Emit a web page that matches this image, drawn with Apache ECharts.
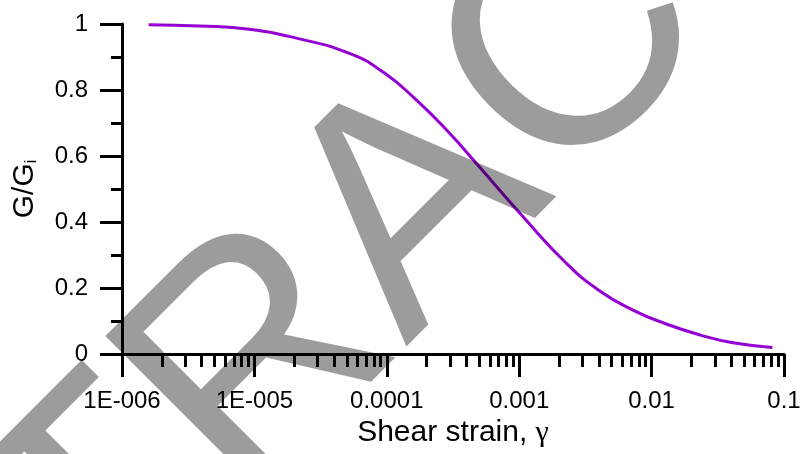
<!DOCTYPE html>
<html>
<head>
<meta charset="utf-8">
<script src="https://cdn.jsdelivr.net/npm/echarts@6/dist/echarts.min.js"></script>
<style>
html,body{margin:0;padding:0;background:#fff;}
#chart{width:803px;height:454px;}
</style>
</head>
<body>
<div id="chart"></div>
<script>
// Shear strain (gamma) and normalised modulus G/Gi
var strain = [1.59e-6, 3.84e-6, 9.16e-6, 2.19e-5, 5.22e-5, 9.33e-5, 1.67e-4, 2.98e-4, 4.74e-4, 1.07e-3, 2.27e-3, 4.06e-3, 7.23e-3, 1.29e-2, 2.31e-2, 4.12e-2, 8.18e-2];
var modulusRatio = [0.998, 0.994, 0.984, 0.955, 0.911, 0.855, 0.770, 0.669, 0.578, 0.416, 0.275, 0.191, 0.133, 0.091, 0.058, 0.034, 0.020];
var xTickLabels = ['1E-006', '1E-005', '0.0001', '0.001', '0.01', '0.1'];
var decades = [-6, -5, -4, -3, -2];
var minorMultipliers = [2, 3, 4, 5, 6, 7, 8, 9];
var watermarkText = 'RETRACTED';

var minorTickValues = [];
decades.forEach(function (d) {
  minorMultipliers.forEach(function (m) { minorTickValues.push(d + Math.log10(m)); });
});
var points = strain.map(function (s, i) { return [s, modulusRatio[i]]; });

var FONT = '"Liberation Sans", Arial, sans-serif';
var chart = echarts.init(document.getElementById('chart'), null, {renderer: 'canvas'});
chart.setOption({
  animation: false,
  backgroundColor: '#ffffff',
  grid: {left: 122, right: 19, top: 24, bottom: 100, containLabel: false, outerBoundsMode: 'none'},
  xAxis: [{
    type: 'log', logBase: 10, min: 1e-6, max: 0.1, position: 'bottom',
    name: '{a|Shear strain, }{g|γ}', nameLocation: 'middle', nameGap: 64,
    nameTextStyle: {color: '#000', fontFamily: FONT, fontSize: 30,
      rich: {a: {fontSize: 30, fontFamily: FONT, color: '#000'}, g: {fontSize: 30, fontFamily: '"Liberation Serif", serif', color: '#000'}}},
    axisLine: {show: true, onZero: false, lineStyle: {color: '#000', width: 3}},
    axisTick: {show: true, inside: false, length: 23, lineStyle: {color: '#000', width: 3}},
    minorTick: {show: false},
    axisLabel: {show: true, margin: 35, color: '#000', fontFamily: FONT, fontSize: 24,
      formatter: function (v) { return xTickLabels[Math.round(Math.log10(v)) + 6]; }},
    splitLine: {show: false}
  }, {
    type: 'value', min: -6, max: -1, position: 'bottom',
    axisLine: {show: false, onZero: false},
    axisTick: {show: true, inside: false, length: 13, customValues: minorTickValues, lineStyle: {color: '#000', width: 3}},
    axisLabel: {show: false},
    splitLine: {show: false}
  }],
  yAxis: {
    type: 'value', min: 0, max: 1, interval: 0.2,
    name: '{a|G/G}{b|i}', nameLocation: 'middle', nameGap: 82, nameRotate: 90,
    nameTextStyle: {color: '#000', fontFamily: FONT, fontSize: 30,
      rich: {a: {fontSize: 30, fontFamily: FONT, color: '#000'}, b: {fontSize: 16, fontFamily: FONT, color: '#000', verticalAlign: 'bottom'}}},
    axisLine: {show: true, onZero: false, lineStyle: {color: '#000', width: 3}},
    axisTick: {show: true, inside: false, length: 22, lineStyle: {color: '#000', width: 3}},
    minorTick: {show: true, splitNumber: 2, length: 11, lineStyle: {color: '#000', width: 3}},
    axisLabel: {show: true, margin: 34, color: '#000', fontFamily: FONT, fontSize: 24},
    splitLine: {show: false}
  },
  series: [{
    type: 'line', xAxisIndex: 0, yAxisIndex: 0, data: points,
    smooth: 0.5, showSymbol: false, symbol: 'none',
    lineStyle: {color: '#9400d3', width: 3}, z: 2
  }],
  graphic: [{
    type: 'text', x: 419, y: 209, rotation: Math.PI / 4, z: 100, silent: true,
    style: {text: watermarkText, font: '320px ' + FONT, fill: 'rgba(0,0,0,0.39)', textAlign: 'center', textVerticalAlign: 'middle'}
  }]
});
</script>
</body>
</html>
